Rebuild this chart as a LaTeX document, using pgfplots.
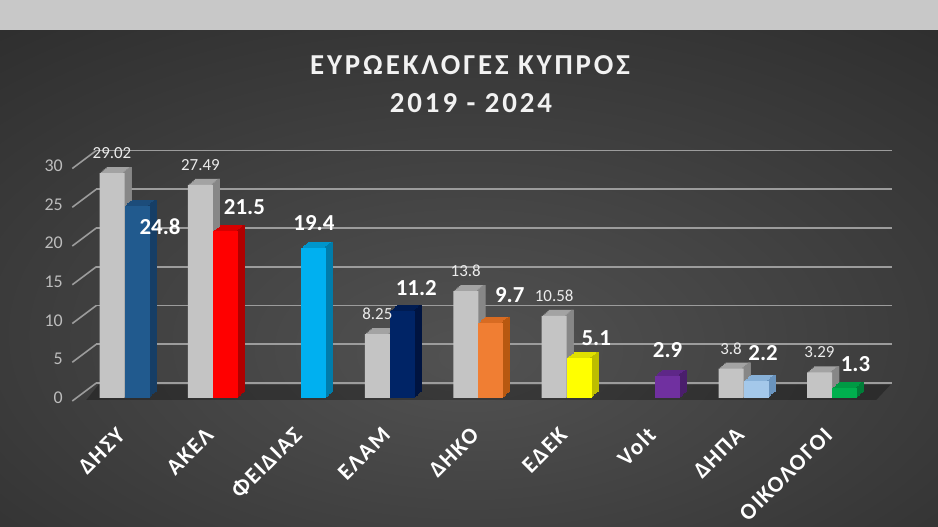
\documentclass[border=0pt]{standalone}
\usepackage{fontspec}
\setmainfont{Carlito}
\newfontfamily\titlefont[LetterSpace=10]{Carlito}
\newfontfamily\labfont[LetterSpace=7]{Carlito}
\usepackage{pgfplots}
\pgfplotsset{compat=1.18}
\definecolor{bgin}{HTML}{525252}
\definecolor{bgout}{HTML}{262626}
\definecolor{strip}{HTML}{C8C8C8}
\definecolor{gridc}{HTML}{9C9C9C}
\definecolor{tickc}{HTML}{BDBDBD}
\definecolor{gfront}{HTML}{C4C4C4}\definecolor{gtop}{HTML}{A3A3A3}\definecolor{gside}{HTML}{878787}
\definecolor{c1f}{HTML}{215A8E}\definecolor{c1t}{HTML}{1C4C7A}\definecolor{c1s}{HTML}{163E66}
\definecolor{c2f}{HTML}{FF0000}\definecolor{c2t}{HTML}{D80000}\definecolor{c2s}{HTML}{B00000}
\definecolor{c3f}{HTML}{00B0F0}\definecolor{c3t}{HTML}{0096CC}\definecolor{c3s}{HTML}{007CAA}
\definecolor{c4f}{HTML}{002466}\definecolor{c4t}{HTML}{001C52}\definecolor{c4s}{HTML}{001440}
\definecolor{c5f}{HTML}{F07E33}\definecolor{c5t}{HTML}{D86B22}\definecolor{c5s}{HTML}{B85810}
\definecolor{c6f}{HTML}{FFFF00}\definecolor{c6t}{HTML}{E0E000}\definecolor{c6s}{HTML}{BDBD00}
\definecolor{c7f}{HTML}{7030A0}\definecolor{c7t}{HTML}{5E2788}\definecolor{c7s}{HTML}{4A1E6C}
\definecolor{c8f}{HTML}{A4C8EA}\definecolor{c8t}{HTML}{88B1D8}\definecolor{c8s}{HTML}{6A94BE}
\definecolor{c9f}{HTML}{00B04E}\definecolor{c9t}{HTML}{009A44}\definecolor{c9s}{HTML}{007E38}
\pgfdeclareradialshading{bgshade}{\pgfpoint{0bp}{-8bp}}{color(0bp)=(bgin); color(48bp)=(bgout); color(80bp)=(bgout)}
\newcommand{\tstep}[5]{\addplot[ybar, bar width=25bp, bar shift=#3, fill=#2, draw=none, forget plot, xshift=#4, yshift=#5] coordinates {#1};}
\newcommand{\sstep}[5]{\addplot[ybar, bar width=2.6bp, bar shift=#3, fill=#2, draw=none, forget plot, xshift=#4, yshift=#5] coordinates {#1};}
\newcommand{\depth}[5]{%
  \tstep{#1}{#2}{#4}{1.4bp}{1.2bp}\tstep{#1}{#2}{#4}{2.8bp}{2.4bp}\tstep{#1}{#2}{#4}{4.2bp}{3.6bp}\tstep{#1}{#2}{#4}{5.6bp}{4.8bp}\tstep{#1}{#2}{#4}{7bp}{6bp}%
  \sstep{#1}{#3}{#5}{1.4bp}{1.2bp}\sstep{#1}{#3}{#5}{2.8bp}{2.4bp}\sstep{#1}{#3}{#5}{4.2bp}{3.6bp}\sstep{#1}{#3}{#5}{5.6bp}{4.8bp}\sstep{#1}{#3}{#5}{7bp}{6bp}%
}
\newcommand{\cbar}[7]{%
  \depth{(#1,#2)}{#4}{#5}{12.5bp}{23.7bp}
  \addplot[ybar, bar width=25bp, bar shift=12.5bp, fill=#3, draw=none, nodes near coords,
     nodes near coords style={anchor=center, xshift=#6, yshift=#7, text=white, font=\fontsize{23}{23}\selectfont\bfseries}] coordinates {(#1,#2)};
}
\begin{document}
\begin{tikzpicture}[x=1bp,y=1bp]
\shade[shading=bgshade] (0,0) rectangle (938,497);
\fill[strip] (0,497) rectangle (938,527);
\path[use as bounding box] (0,0) rectangle (938,527);
\node[text=white!90!gray, font=\titlefont\fontsize{29}{29}\selectfont\bfseries] at (470,462) {ΕΥΡΩΕΚΛΟΓΕΣ ΚΥΠΡΟΣ};
\node[text=white!90!gray, font=\titlefont\fontsize{29}{29}\selectfont\bfseries] at (471,424) {2019 - 2024};
\begin{axis}[
  at={(80.3bp,129bp)}, anchor=south west,
  scale only axis, width=795.9bp, height=232.5bp,
  xmin=-0.5, xmax=8.5, ymin=0, ymax=30,
  clip=false,
  axis line style={draw=none},
  tick style={draw=none},
  ytick={0,5,...,30},
  ymajorgrids,
  major grid style={draw=gridc, line width=1.6bp, xshift=16bp, yshift=15bp},
  yticklabel style={anchor=east, xshift=-14bp, text=tickc, font=\fontsize{18}{18}\selectfont},
  xtick={0,...,8},
  xticklabels={ΔΗΣΥ,ΑΚΕΛ,ΦΕΙΔΙΑΣ,ΕΛΑΜ,ΔΗΚΟ,ΕΔΕΚ,Volt,ΔΗΠΑ,ΟΙΚΟΛΟΓΟΙ},
  xticklabel style={text=white, font=\labfont\fontsize{23}{23}\selectfont\bfseries, xshift=-1bp, yshift=-31bp, rotate=45, anchor=east},
  /pgf/number format/assume math mode=true,
  /pgf/number format/fixed,
  /pgf/number format/precision=2,
]
\pgfplotsinvokeforeach{0,5,...,30}{
  \draw[gridc, line width=1.6bp] ([shift={(-8bp,-3bp)}]axis cs:-0.5,#1) -- ([shift={(16bp,15bp)}]axis cs:-0.5,#1);
}
\fill[black, opacity=0.28] ([shift={(6bp,-2bp)}]axis cs:-0.5,0) -- ([shift={(0bp,-2bp)}]axis cs:8.5,0) -- ([shift={(14bp,13bp)}]axis cs:8.5,0) -- ([shift={(18bp,13bp)}]axis cs:-0.5,0) -- cycle;
% 2019 series (grey)
\depth{(0,29.02) (1,27.49) (3,8.25) (4,13.8) (5,10.58) (7,3.8) (8,3.29)}{gtop}{gside}{-12.5bp}{-1.3bp}
\addplot[ybar, bar width=25bp, bar shift=-12.5bp, fill=gfront, draw=none, nodes near coords,
  nodes near coords style={anchor=center, xshift=-12.5bp, yshift=20bp, text=white!85!gray, font=\fontsize{17}{17}\selectfont}]
  coordinates {(0,29.02) (1,27.49) (3,8.25) (4,13.8) (5,10.58) (7,3.8) (8,3.29)};
% 2024 series (coloured)
\cbar{0}{24.8}{c1f}{c1t}{c1s}{35.5bp}{-21bp}
\cbar{1}{21.5}{c2f}{c2t}{c2s}{31.5bp}{24bp}
\cbar{2}{19.4}{c3f}{c3t}{c3s}{12.5bp}{25bp}
\cbar{3}{11.2}{c4f}{c4t}{c4s}{26.5bp}{23bp}
\cbar{4}{9.7}{c5f}{c5t}{c5s}{31.5bp}{28bp}
\cbar{5}{5.1}{c6f}{c6t}{c6s}{29.5bp}{20bp}
\cbar{6}{2.9}{c7f}{c7t}{c7s}{12.5bp}{25bp}
\cbar{7}{2.2}{c8f}{c8t}{c8s}{19.5bp}{28bp}
\cbar{8}{1.3}{c9f}{c9t}{c9s}{23.5bp}{24bp}
\end{axis}
\end{tikzpicture}
\end{document}
